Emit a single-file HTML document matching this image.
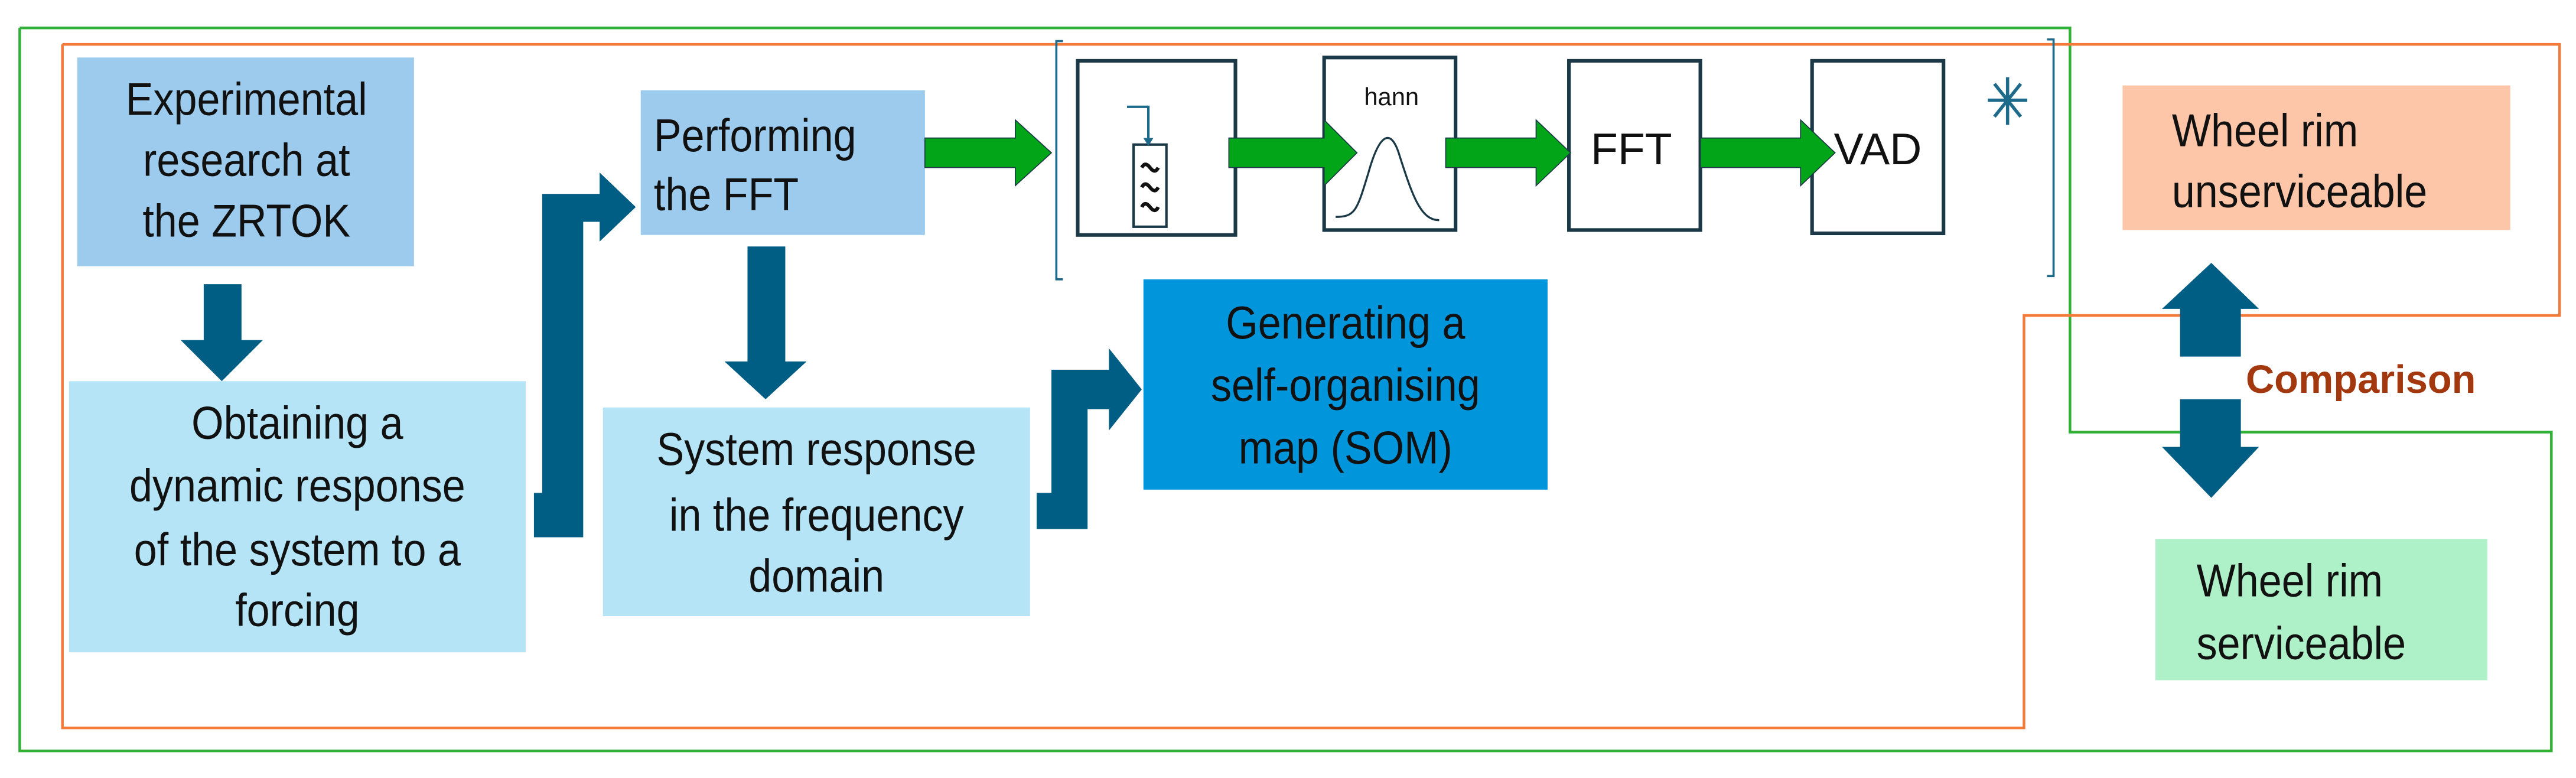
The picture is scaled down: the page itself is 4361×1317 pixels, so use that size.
<!DOCTYPE html>
<html><head><meta charset="utf-8"><style>
html,body{margin:0;padding:0;background:#fff;}
svg{display:block;}
text{font-family:"Liberation Sans",sans-serif;fill:#111;}
</style></head><body>
<svg width="4361" height="1317" viewBox="0 0 1568 473.5" preserveAspectRatio="none" xmlns="http://www.w3.org/2000/svg">
<rect width="1568" height="473.5" fill="#fff"/>
<polyline points="12,17 1260,17 1260,263 1553,263 1553,457 12,457 12,17" fill="none" stroke="#2eb135" stroke-width="1.6"/>
<polyline points="38,27 1558,27 1558,192 1232,192 1232,443 38,443 38,27" fill="none" stroke="#f47a3a" stroke-width="1.6"/>

<rect x="47" y="35" width="205" height="127" fill="#9ccbed"/>
<rect x="42" y="232" width="278" height="165" fill="#b4e4f6"/>
<rect x="390" y="55" width="173" height="88" fill="#9ccbed"/>
<rect x="367" y="248" width="260" height="127" fill="#b4e4f6"/>
<rect x="696" y="170" width="246" height="128" fill="#0196db"/>
<rect x="1292" y="52" width="236" height="88" fill="#fdc6a8"/>
<rect x="1312" y="328" width="202" height="86" fill="#aef0c7"/>

<g fill="#005e85">
<polygon points="124,173 147,173 147,207 160,207 135,232 110,207 124,207"/>
<polygon points="455,150 478,150 478,220 491,220 466,243 441,220 455,220"/>
<polygon points="325,300 330,300 330,118 365,118 365,105 387,126 365,147 365,135 355,135 355,327 325,327"/>
<polygon points="631,300 640,300 640,225 675,225 675,212 695,237 675,262 675,249 662,249 662,322 631,322"/>
<polygon points="1346,160 1375,188 1364,188 1364,217 1327,217 1327,188 1316,188"/>
<polygon points="1327,243 1364,243 1364,272 1375,272 1346,303 1316,272 1327,272"/>
</g>

<path d="M647,25 L643,25 L643,170 L647,170" fill="none" stroke="#1d6a8a" stroke-width="1.3"/>
<path d="M1246,24 L1250,24 L1250,168 L1246,168" fill="none" stroke="#1d6a8a" stroke-width="1.3"/>

<g fill="#fff" stroke="#1a3846" stroke-width="2.2">
<rect x="656" y="37" width="96" height="106"/>
<rect x="806" y="35" width="80" height="105"/>
<rect x="955" y="37" width="80" height="103"/>
<rect x="1103" y="37" width="80" height="105"/>
<rect x="690" y="88" width="20" height="50" stroke-width="1.5"/>
</g>
<path d="M686,65 L699,65 L699,86" fill="none" stroke="#1d6a8a" stroke-width="1.5"/>
<polygon points="696,84 702,84 699,89" fill="#1d6a8a"/>
<g fill="none" stroke="#111" stroke-width="2.2">
<path d="M695,102 q2,-4 5,0 t5,0"/>
<path d="M695,114 q2,-4 5,0 t5,0"/>
<path d="M695,126 q2,-4 5,0 t5,0"/>
</g>
<path d="M813,132 C825,132 826,128 833,105 C840,80 847,78 852,95 C860,120 865,134 876,134" fill="none" stroke="#1a3846" stroke-width="1.2"/>
<text x="847" y="64" font-size="15" text-anchor="middle">hann</text>
<text x="993" y="100" font-size="27" text-anchor="middle">FFT</text>
<text x="1143" y="100" font-size="27" text-anchor="middle">VAD</text>
<g stroke="#1d6a8a" stroke-width="2"><line x1="1222" y1="47" x2="1222" y2="76"/><line x1="1210" y1="61" x2="1234" y2="61"/><line x1="1214" y1="51" x2="1230" y2="71"/><line x1="1230" y1="51" x2="1214" y2="71"/></g>

<g fill="#02a517" stroke="#1a3846" stroke-width="0.6">
<polygon points="563,84 618,84 618,73 640,93 618,113 618,102 563,102"/>
<polygon points="748,84 806,84 806,73 826,93 806,113 806,102 748,102"/>
<polygon points="880,84 935,84 935,73 956,93 935,113 935,102 880,102"/>
<polygon points="1035,84 1096,84 1096,73 1117,93 1096,113 1096,102 1035,102"/>
</g>

<g transform="scale(0.9,1)" font-size="28">
<g text-anchor="middle">
<text x="166.7" y="70">Experimental</text>
<text x="166.7" y="107">research at</text>
<text x="166.7" y="144">the ZRTOK</text>
<text x="201.1" y="267">Obtaining a</text>
<text x="201.1" y="305">dynamic response</text>
<text x="201.1" y="344">of the system to a</text>
<text x="201.1" y="381">forcing</text>
<text x="552.2" y="283">System response</text>
<text x="552.2" y="323">in the frequency</text>
<text x="552.2" y="360">domain</text>
<text x="910" y="206">Generating a</text>
<text x="910" y="244">self-organising</text>
<text x="910" y="282">map (SOM)</text>
</g>
<text x="442.2" y="92">Performing</text>
<text x="442.2" y="128">the FFT</text>
<text x="1468.9" y="89">Wheel rim</text>
<text x="1468.9" y="126">unserviceable</text>
<text x="1485.6" y="363">Wheel rim</text>
<text x="1485.6" y="401">serviceable</text>
</g>
<text x="1367" y="239" font-size="24" font-weight="bold" style="fill:#a3380f">Comparison</text>
</svg>
</body></html>
